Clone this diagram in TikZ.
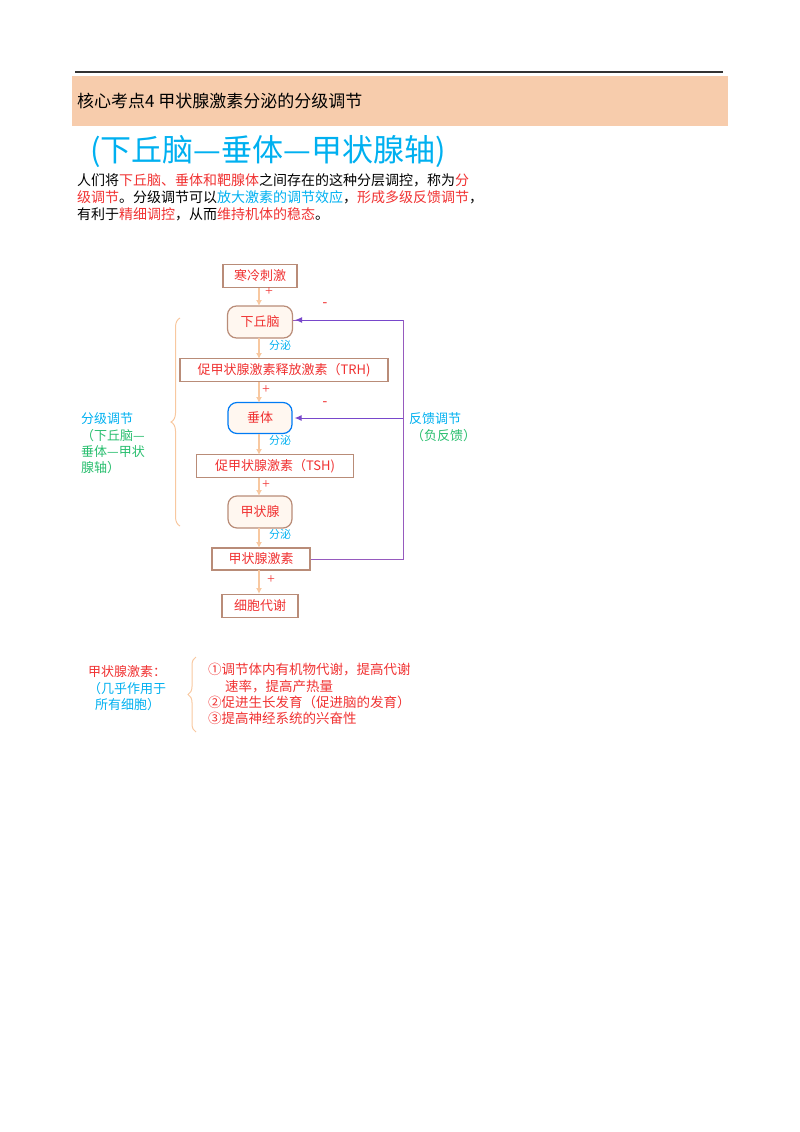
\documentclass[tikz,border=0pt]{standalone}
\usepackage{fontspec}
\setmainfont{Liberation Serif}
\newfontfamily\cjk{Noto Sans CJK SC}
\usetikzlibrary{decorations.pathreplacing,arrows.meta}
\definecolor{myred}{RGB}{240,50,50}
\definecolor{mycyan}{RGB}{0,176,240}
\definecolor{mygreen}{RGB}{40,190,110}
\definecolor{band}{RGB}{247,204,172}
\definecolor{boxb}{RGB}{185,140,120}
\definecolor{arr}{RGB}{248,200,160}
\definecolor{purp}{RGB}{150,90,190}
\begin{document}
\begin{tikzpicture}[x=1pt,y=-1pt,
  t/.style={inner sep=0,anchor=west,font=\cjk\fontsize{13}{13}\selectfont},
  box/.style={draw=boxb,line width=1.2pt,fill=white,text=myred,font=\cjk\fontsize{13}{13}\selectfont,inner sep=0},
  rbox/.style={box,rounded corners=9pt,fill=orange!6},
  ar/.style={draw=arr,line width=1.2pt,-{Latex[length=6pt,width=6pt]}},
  fb/.style={draw=purp,line width=1pt},
  lab/.style={inner sep=0,font=\cjk\fontsize{11}{11}\selectfont},
  pl/.style={inner sep=0,font=\fontsize{14}{14}\selectfont,text=myred}]
\useasboundingbox (0,0) rectangle (800,1132);
\draw[line width=1.5pt,black!80] (75,72) -- (723,72);
\fill[band] (72,76) rectangle (728,126);
\node[t,font=\cjk\fontsize{17}{17}\selectfont] (hd) at (77,101) {核心考点4\ 甲状腺激素分泌的分级调节};
\node[t,text=mycyan,font=\cjk\fontsize{31}{31}\selectfont] (ti) at (90,152) {(下丘脑—垂体—甲状腺轴)};
\node[t,font=\cjk\fontsize{14}{14}\selectfont] (p1) at (77,180) {人们将\textcolor{myred}{下丘脑、垂体和靶腺体}之间存在的这种分层调控，称为\textcolor{myred}{分}};
\node[t,font=\cjk\fontsize{14}{14}\selectfont] (p2) at (77,197) {\textcolor{myred}{级调节}。分级调节可以\textcolor{mycyan}{放大激素的调节效应}，\textcolor{myred}{形成多级反馈调节}，};
\node[t,font=\cjk\fontsize{14}{14}\selectfont] (p3) at (77,214) {有利于\textcolor{myred}{精细调控}，从而\textcolor{myred}{维持机体的稳态}。};

\node[box,minimum width=74pt,minimum height=23pt] (a) at (260,276) {寒冷刺激};
\node[rbox,minimum width=65pt,minimum height=32pt] (b) at (260,322) {下丘脑};
\node[box,minimum width=208pt,minimum height=23pt] (c) at (284,370) {促甲状腺激素释放激素（TRH)};
\node[rbox,draw=mycyan!70!blue,minimum width=64pt,minimum height=31pt] (d) at (260,418) {垂体};
\node[box,minimum width=157pt,minimum height=23pt] (e) at (275,466) {促甲状腺激素（TSH)};
\node[rbox,minimum width=64pt,minimum height=32pt] (f) at (260,512) {甲状腺};
\node[box,minimum width=98pt,minimum height=22pt] (g) at (261,559) {甲状腺激素};
\node[box,minimum width=76pt,minimum height=23pt] (h) at (260,606) {细胞代谢};

\draw[ar] (259,288) -- (259,306);
\draw[ar] (259,338) -- (259,359);
\draw[ar] (259,382) -- (259,403);
\draw[ar] (259,434) -- (259,455);
\draw[ar] (259,478) -- (259,496);
\draw[ar] (259,528) -- (259,548);
\draw[ar] (259,570) -- (259,594);
\node[pl] (l1) at (269,292) {+};
\node[lab,text=mycyan] (l2) at (280,345) {分泌};
\node[pl] (l3) at (266,390) {+};
\node[lab,text=mycyan] (l4) at (280,440) {分泌};
\node[pl] (l5) at (266,485) {+};
\node[lab,text=mycyan] (l6) at (280,534) {分泌};
\node[pl] (l7) at (271,580) {+};

\coordinate (k1) at (403,559);
\coordinate (k2) at (403,320);
\coordinate (k3) at (403,418);
\draw[fb] (g.east) -- (k1) -- (k2) -- (b.east |- k2);
\draw[fb,-{Latex[length=7pt,width=6pt]},draw=purp!80!blue] (k2) -- ([xshift=2pt]b.east |- k2);
\draw[fb,-{Latex[length=7pt,width=6pt]},draw=purp!80!blue] (k3) -- ([xshift=2pt]d.east |- k3);
\node[pl] (m1) at (325,305) {-};
\node[pl] (m2) at (325,404) {-};
\node[t,text=mycyan] (fa) at (409,419) {反馈调节};
\node[t,text=mygreen] (fb2) at (411,436) {（负反馈）};

\draw[arr,line width=1pt,decorate,decoration={brace,amplitude=9pt}] (180,526) -- (180,318);
\node[t,text=mycyan] (s1) at (81,419) {分级调节};
\node[t,text=mygreen] (s2) at (81,436) {（下丘脑—};
\node[t,text=mygreen] (s3) at (81,452) {垂体—甲状};
\node[t,text=mygreen] (s4) at (81,468) {腺轴）};

\node[t,text=myred] (q1) at (88,672) {甲状腺激素：};
\node[t,text=mycyan] (q2) at (88,689) {（几乎作用于};
\node[t,text=mycyan] (q3) at (95,705) {所有细胞）};
\draw[arr,line width=1pt,decorate,decoration={brace,amplitude=8pt}] (196,732) -- (196,657);
\node[t,text=myred,font=\cjk\fontsize{13.5}{13.5}\selectfont] (r1) at (208,670) {①调节体内有机物代谢，提高代谢};
\node[t,text=myred,font=\cjk\fontsize{13.5}{13.5}\selectfont] (r2) at (225,686) {速率，提高产热量};
\node[t,text=myred,font=\cjk\fontsize{13.5}{13.5}\selectfont] (r3) at (208,702) {②促进生长发育（促进脑的发育）};
\node[t,text=myred,font=\cjk\fontsize{13.5}{13.5}\selectfont] (r4) at (208,718) {③提高神经系统的兴奋性};
\end{tikzpicture}
\end{document}
